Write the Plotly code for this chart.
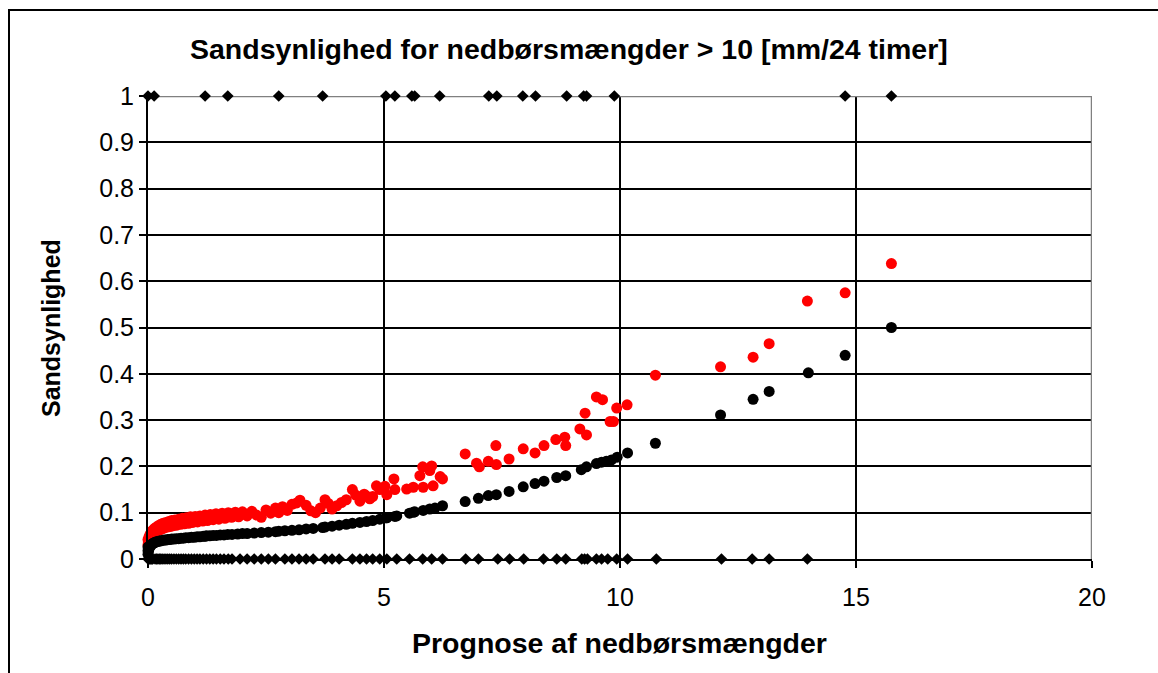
import plotly.graph_objects as go

# ---------------- data ----------------
black_x = [0.00, 0.00, 0.00, 0.01, 0.02, 0.03, 0.04, 0.05, 0.06, 0.07, 0.08, 0.10, 0.11, 0.13, 0.15,
           0.18, 0.21, 0.24, 0.27, 0.30, 0.34, 0.38, 0.42, 0.46, 0.50, 0.55, 0.60, 0.65, 0.70, 0.75,
           0.80, 0.86, 0.92, 0.98, 1.04, 1.10, 1.17, 1.21, 1.24, 1.31, 1.38, 1.45, 1.53, 1.61, 1.69,
           1.78, 1.90, 2.00, 2.10, 2.25, 2.40, 2.55, 2.70, 2.77, 2.90, 3.05, 3.20, 3.35, 3.50, 3.70,
           3.75, 3.90, 4.05, 4.20, 4.33, 4.49, 4.63, 4.76, 4.91, 5.04, 5.06, 5.23, 5.27, 5.54, 5.62,
           5.65, 5.83, 5.97, 6.08, 6.24, 6.72, 7.00, 7.21, 7.38, 7.65, 7.95, 8.20, 8.39, 8.66, 8.85,
           9.18, 9.29, 9.50, 9.61, 9.71, 9.82, 9.94, 10.16, 10.75, 12.13, 12.82, 13.16, 13.99, 14.77, 15.75]
black_p = [0.010, 0.018, 0.026, 0.016, 0.022, 0.025, 0.027, 0.029, 0.030, 0.031, 0.032, 0.033, 0.034, 0.035, 0.036,
           0.037, 0.038, 0.039, 0.039, 0.040, 0.041, 0.041, 0.042, 0.042, 0.043, 0.043, 0.044, 0.044, 0.045, 0.045,
           0.046, 0.046, 0.047, 0.047, 0.048, 0.048, 0.049, 0.049, 0.050, 0.050, 0.051, 0.051, 0.052, 0.052, 0.053,
           0.053, 0.054, 0.055, 0.055, 0.056, 0.057, 0.058, 0.059, 0.060, 0.061, 0.062, 0.063, 0.065, 0.066, 0.068,
           0.069, 0.071, 0.073, 0.075, 0.077, 0.079, 0.081, 0.083, 0.086, 0.089, 0.089, 0.092, 0.093, 0.099, 0.101,
           0.102, 0.105, 0.108, 0.110, 0.115, 0.124, 0.131, 0.137, 0.139, 0.146, 0.156, 0.163, 0.168, 0.176, 0.180,
           0.193, 0.199, 0.206, 0.209, 0.211, 0.214, 0.220, 0.229, 0.250, 0.311, 0.345, 0.362, 0.402, 0.440, 0.500]

red_x = [0.00, 0.00, 0.01, 0.02, 0.03, 0.04, 0.05, 0.06, 0.07, 0.08, 0.10, 0.11, 0.13, 0.14, 0.16,
         0.18, 0.20, 0.22, 0.25, 0.27, 0.30, 0.32, 0.35, 0.38, 0.41, 0.44, 0.47, 0.50, 0.54, 0.57,
         0.61, 0.65, 0.69, 0.73, 0.77, 0.81, 0.86, 0.90, 0.95, 1.00, 1.05, 1.10, 1.16, 1.21, 1.26,
         1.32, 1.38, 1.44, 1.50, 1.57, 1.63, 1.70, 1.77, 1.85, 1.92, 2.00, 2.10, 2.20, 2.30, 2.40,
         2.50, 2.60, 2.70, 2.77, 2.85, 2.95, 3.05, 3.15, 3.22, 3.35, 3.45, 3.55, 3.65, 3.75, 3.82,
         3.90, 4.00, 4.10, 4.20, 4.33, 4.40, 4.49, 4.58, 4.63, 4.70, 4.76, 4.84, 4.91,
         5.02, 5.06, 5.21, 5.23, 5.48, 5.62, 5.76, 5.82, 5.83, 5.97, 6.01, 6.04, 6.19, 6.24,
         6.72, 6.96, 7.02, 7.21, 7.37, 7.38, 7.65, 7.95, 8.20, 8.39, 8.64, 8.83, 8.85, 9.15, 9.26,
         9.29, 9.50, 9.63, 9.79, 9.86, 9.93, 10.15, 10.75, 12.13, 12.82, 13.16, 13.97, 14.77, 15.75]
red_p = [0.030, 0.042, 0.036, 0.047, 0.040, 0.052, 0.044, 0.056, 0.048, 0.060, 0.052, 0.063, 0.056, 0.066, 0.058,
         0.069, 0.061, 0.072, 0.063, 0.075, 0.065, 0.077, 0.067, 0.079, 0.069, 0.081, 0.070, 0.083, 0.072, 0.084,
         0.073, 0.086, 0.075, 0.088, 0.076, 0.089, 0.077, 0.091, 0.079, 0.092, 0.080, 0.093, 0.082, 0.095, 0.083,
         0.096, 0.085, 0.098, 0.086, 0.099, 0.088, 0.100, 0.090, 0.101, 0.091, 0.102, 0.093, 0.103, 0.095, 0.090,
         0.106, 0.099, 0.110, 0.100, 0.113, 0.105, 0.118, 0.121, 0.127, 0.116, 0.104, 0.100, 0.110, 0.128, 0.120,
         0.108, 0.115, 0.122, 0.128, 0.150, 0.138, 0.125, 0.140, 0.136, 0.130, 0.135, 0.158, 0.150,
         0.157, 0.139, 0.173, 0.150, 0.151, 0.155, 0.180, 0.199, 0.155, 0.191, 0.201, 0.158, 0.178, 0.173,
         0.227, 0.207, 0.199, 0.211, 0.245, 0.204, 0.216, 0.238, 0.229, 0.245, 0.258, 0.263, 0.245, 0.281, 0.315,
         0.268, 0.350, 0.344, 0.297, 0.297, 0.326, 0.333, 0.397, 0.415, 0.436, 0.465, 0.557, 0.575, 0.638]

obs1_x = [0.00, 0.13, 1.21, 1.69, 2.77, 3.70, 5.04, 5.23, 5.59, 5.65, 6.18, 7.22, 7.39, 7.94, 8.21,
          8.87, 9.23, 9.29, 9.88, 14.77, 15.75]
obs1_y = [1] * len(obs1_x)
obs0_x = [0.00, 0.02, 0.04, 0.06, 0.08, 0.10, 0.15, 0.18, 0.21, 0.24, 0.27, 0.30, 0.34, 0.38, 0.42,
          0.46, 0.50, 0.55, 0.60, 0.65, 0.70, 0.75, 0.80, 0.86, 0.92, 0.98, 1.04, 1.10, 1.17, 1.24,
          1.31, 1.38, 1.45, 1.53, 1.61, 1.70, 1.78, 1.95, 2.10, 2.25, 2.40, 2.55, 2.70, 2.90, 3.05,
          3.20, 3.35, 3.50, 3.75, 3.90, 4.05, 4.33, 4.49, 4.63, 4.76, 4.91, 5.06, 5.27, 5.54, 5.82,
          6.01, 6.24, 6.73, 7.00, 7.41, 7.66, 7.96, 8.38, 8.66, 8.85, 9.19, 9.25, 9.31, 9.50, 9.61,
          9.74, 9.93, 10.16, 10.77, 12.15, 12.80, 13.16, 13.97]
obs0_y = [0] * len(obs0_x)

x_ticks = [0, 5, 10, 15, 20]

title_text = "Sandsynlighed for nedbørsmængder > 10 [mm/24 timer]"
x_title = "Prognose af nedbørsmængder"
y_title = "Sandsynlighed"

FONT = "Liberation Sans, Arial, sans-serif"

# ---------------- figure ----------------
fig = go.Figure()
fig.add_trace(go.Scatter(x=red_x, y=red_p, mode="markers", cliponaxis=False,
                         marker=dict(symbol="circle", size=11, color="#ff0000", line=dict(width=0)),
                         showlegend=False))
fig.add_trace(go.Scatter(x=black_x, y=black_p, mode="markers", cliponaxis=False,
                         marker=dict(symbol="circle", size=11, color="#000000", line=dict(width=0)),
                         showlegend=False))
fig.add_trace(go.Scatter(x=obs0_x, y=obs0_y, mode="markers", cliponaxis=False,
                         marker=dict(symbol="diamond", size=9, color="#000000", line=dict(width=0)),
                         showlegend=False))
fig.add_trace(go.Scatter(x=obs1_x, y=obs1_y, mode="markers", cliponaxis=False,
                         marker=dict(symbol="diamond", size=9, color="#000000", line=dict(width=0)),
                         showlegend=False))

W, H = 1158, 673
L, R, T, B = 148, 66, 96, 114
pw, ph = W - L - R, H - T - B

def px2paper_x(px):
    return (px - L) / pw

def px2paper_y(py):
    return (H - B - py) / ph

shapes = [
    # outer frame
    dict(type="rect", xref="paper", yref="paper",
         x0=px2paper_x(9), x1=px2paper_x(1200), y0=px2paper_y(720), y1=px2paper_y(10),
         line=dict(color="black", width=2), fillcolor="rgba(0,0,0,0)", layer="above"),
    # gray plot-area border (top and right)
    dict(type="line", xref="x", yref="y", x0=0, x1=20, y0=1, y1=1,
         line=dict(color="#808080", width=2.5), layer="between"),
    dict(type="line", xref="x", yref="y", x0=20, x1=20, y0=0, y1=1,
         line=dict(color="#808080", width=2.5), layer="between"),
]

annotations = [
    dict(text="<b>" + title_text + "</b>", xref="paper", yref="paper",
         x=px2paper_x(569), y=px2paper_y(49), xanchor="center", yanchor="middle",
         showarrow=False, font=dict(family=FONT, size=28.5, color="black")),
    dict(text="<b>" + x_title + "</b>", xref="paper", yref="paper",
         x=px2paper_x(619), y=px2paper_y(643), xanchor="center", yanchor="middle",
         showarrow=False, font=dict(family=FONT, size=28.5, color="black")),
    dict(text="<b>" + y_title + "</b>", xref="paper", yref="paper",
         x=px2paper_x(51), y=px2paper_y(328), xanchor="center", yanchor="middle",
         textangle=-90, showarrow=False, font=dict(family=FONT, size=25, color="black")),
]

fig.update_layout(
    width=W, height=H,
    margin=dict(l=L, r=R, t=T, b=B, pad=0),
    paper_bgcolor="white", plot_bgcolor="white",
    font=dict(family=FONT, color="black"),
    shapes=shapes, annotations=annotations,
    showlegend=False,
)
fig.update_xaxes(range=[0, 20], tickvals=x_ticks, showgrid=True, gridcolor="black", gridwidth=1.5,
                 zeroline=False, showline=True, linecolor="black", linewidth=2,
                 ticks="outside", ticklen=7, tickwidth=1.5, tickcolor="black",
                 tickfont=dict(family=FONT, size=25, color="black"), ticklabelstandoff=8)
fig.update_yaxes(range=[0, 1], dtick=0.1, tick0=0, showgrid=True, gridcolor="black", gridwidth=1.5,
                 zeroline=False, showline=True, linecolor="black", linewidth=2,
                 ticks="outside", ticklen=7, tickwidth=1.5, tickcolor="black",
                 tickfont=dict(family=FONT, size=25, color="black"), ticklabelstandoff=0)

fig.write_html("out.html")
